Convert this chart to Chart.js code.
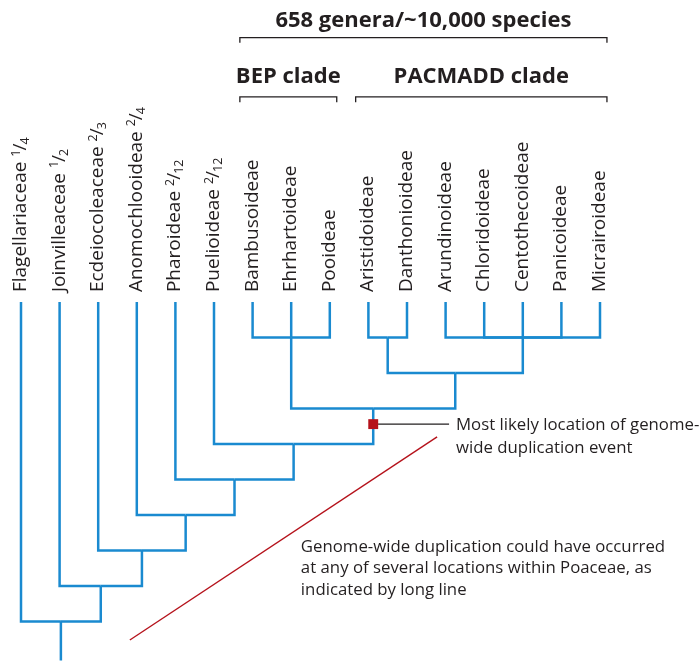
<!DOCTYPE html>
<html>
<head>
<meta charset="utf-8">
<script src="https://cdn.jsdelivr.net/npm/chart.js@4"></script>
<style>
  html, body { margin: 0; padding: 0; background: #fff; }
  canvas { display: block; }
</style>
</head>
<body>
<canvas id="tree" width="699" height="662"></canvas>
<script>
// leaves of the tree, left to right
const taxa = [
  "Flagellariaceae", "Joinvilleaceae", "Ecdeiocoleaceae", "Anomochlooideae",
  "Pharoideae", "Puelioideae", "Bambusoideae", "Ehrhartoideae", "Pooideae",
  "Aristidoideae", "Danthonioideae", "Arundinoideae", "Chloridoideae",
  "Centothecoideae", "Panicoideae", "Micrairoideae"
];
// fraction written after the first names (numerator, denominator)
const fractions = [["1", "4"], ["1", "2"], ["2", "3"], ["2", "4"], ["2", "12"], ["2", "12"]];

// internal nodes: name, children, depth (0 = leaf tips)
const clades = [
  ["bep", ["Bambusoideae", "Ehrhartoideae", "Pooideae"], 1],
  ["ad", ["Aristidoideae", "Danthonioideae"], 1],
  ["core", ["Arundinoideae", "Chloridoideae", "Centothecoideae", "Panicoideae", "Micrairoideae"], 1],
  ["pacmadd", ["ad", "core"], 2],
  ["bp", ["bep", "pacmadd"], 3],
  ["n4", ["Puelioideae", "bp"], 4],
  ["n5", ["Pharoideae", "n4"], 5],
  ["n6", ["Anomochlooideae", "n5"], 6],
  ["n7", ["Ecdeiocoleaceae", "n6"], 7],
  ["n8", ["Joinvilleaceae", "n7"], 8],
  ["root", ["Flagellariaceae", "n8"], 9]
];

// brackets over the leaves: label, first taxon, last taxon
const brackets = [
  ["658 genera/~10,000 species", "Bambusoideae", "Micrairoideae"],
  ["BEP clade", "Bambusoideae", "Pooideae"],
  ["PACMADD clade", "Aristidoideae", "Micrairoideae"]
];

// node where the duplication most likely happened
const duplicationNode = "bp";

const notes = [
  ["Most likely location of genome-", "wide duplication event"],
  ["Genome-wide duplication could have occurred", "at any of several locations within Poaceae, as", "indicated by long line"]
];

// ---- layout ----
const BLUE = "#1a8ad0", INK = "#231f20", RED = "#b5121b";
const STEP_X = 38.6, STEP_Y = 35.5;
const bracketRows = [-7.45, -5.78, -5.78];
const rootTail = 10.1;

// x / level of every node
const nodePos = {};
taxa.forEach((t, i) => { nodePos[t] = { x: i, level: 0 }; });
clades.forEach(([name, kids, level]) => {
  const xs = kids.map(k => nodePos[k].x);
  nodePos[name] = { x: (Math.min(...xs) + Math.max(...xs)) / 2, level: level };
});

const datasets = [];

// duplication marker (first, so it sits on top of the branches)
datasets.push({
  data: [{ x: nodePos[duplicationNode].x, y: 3.44 }],
  pointStyle: "rect", pointRadius: 7, backgroundColor: RED, borderWidth: 0, showLine: false
});

function seg(points, color, width) {
  datasets.push({
    data: points, borderColor: color, borderWidth: width, showLine: true,
    pointRadius: 0, fill: false, borderCapStyle: "butt", borderJoinStyle: "miter"
  });
}

// tree branches, one L per child
clades.forEach(([name, kids, level]) => {
  const p = nodePos[name];
  kids.forEach(k => {
    const c = nodePos[k];
    seg([{ x: c.x, y: c.level }, { x: c.x, y: level }, { x: p.x, y: level }], BLUE, 2.5);
  });
});
seg([{ x: nodePos.root.x, y: nodePos.root.level }, { x: nodePos.root.x, y: rootTail }], BLUE, 2.5);

// brackets
brackets.forEach(([label, from, to], r) => {
  const x0 = taxa.indexOf(from) - 0.33, x1 = taxa.indexOf(to) + 0.18;
  const row = bracketRows[r];
  seg([{ x: x0, y: row + 0.15 }, { x: x0, y: row }, { x: x1, y: row }, { x: x1, y: row + 0.15 }], INK, 1.3);
});

// long red line and pointer line
seg([{ x: 2.82, y: 9.52 }, { x: 10.78, y: 3.8 }], RED, 1.4);
seg([{ x: 9.25, y: 3.44 }, { x: 11.09, y: 3.44 }], INK, 1.4);

const textPlugin = {
  id: "texts",
  afterDatasetsDraw(chart) {
    const { ctx, scales: { x, y } } = chart;
    ctx.save();
    ctx.fillStyle = INK;
    ctx.textBaseline = "alphabetic";

    // leaf names, rotated
    taxa.forEach((t, i) => {
      ctx.save();
      ctx.translate(x.getPixelForValue(i) + 5, y.getPixelForValue(-0.28));
      ctx.rotate(-Math.PI / 2);
      ctx.textAlign = "left";
      ctx.font = "19px 'Open Sans'";
      ctx.fillText(t, 0, 0);
      const f = fractions[i];
      if (f) {
        let w = ctx.measureText(t + " ").width;
        ctx.font = "12.5px 'Open Sans'";
        ctx.fillText(f[0], w, -6.5);
        w += ctx.measureText(f[0]).width - 1;
        ctx.font = "19px 'Open Sans'";
        ctx.fillText("/", w, 0);
        w += ctx.measureText("/").width - 1;
        ctx.font = "12.5px 'Open Sans'";
        ctx.fillText(f[1], w, 3);
      }
      ctx.restore();
    });

    // bracket labels
    ctx.textAlign = "center";
    ctx.font = "bold 22px 'Open Sans'";
    brackets.forEach(([label, from, to], r) => {
      const cx = (x.getPixelForValue(taxa.indexOf(from) - 0.33) + x.getPixelForValue(taxa.indexOf(to) + 0.18)) / 2;
      const by = y.getPixelForValue(bracketRows[r]) - (r === 0 ? 11 : 13.5);
      ctx.fillText(label, cx, by);
    });

    // notes
    ctx.textAlign = "left";
    ctx.font = "16.8px 'Open Sans'";
    const noteAt = [[11.27, 3.61, 22.5], [7.25, 7.04, 21.5]];
    notes.forEach((lines, n) => {
      const [nx, ny, lh] = noteAt[n];
      lines.forEach((line, k) => {
        ctx.fillText(line, x.getPixelForValue(nx), y.getPixelForValue(ny) + k * lh);
      });
    });
    ctx.restore();
  }
};

new Chart(document.getElementById("tree"), {
  type: "scatter",
  data: { datasets: datasets },
  options: {
    responsive: false,
    animation: false,
    layout: { padding: 0, autoPadding: false },
    plugins: { legend: { display: false }, tooltip: { enabled: false } },
    scales: {
      x: { type: "linear", display: false, min: -21 / STEP_X, max: (699 - 21) / STEP_X },
      y: { type: "linear", display: false, reverse: true, min: -302 / STEP_Y, max: (662 - 302) / STEP_Y }
    }
  },
  plugins: [textPlugin]
});
</script>
</body>
</html>
